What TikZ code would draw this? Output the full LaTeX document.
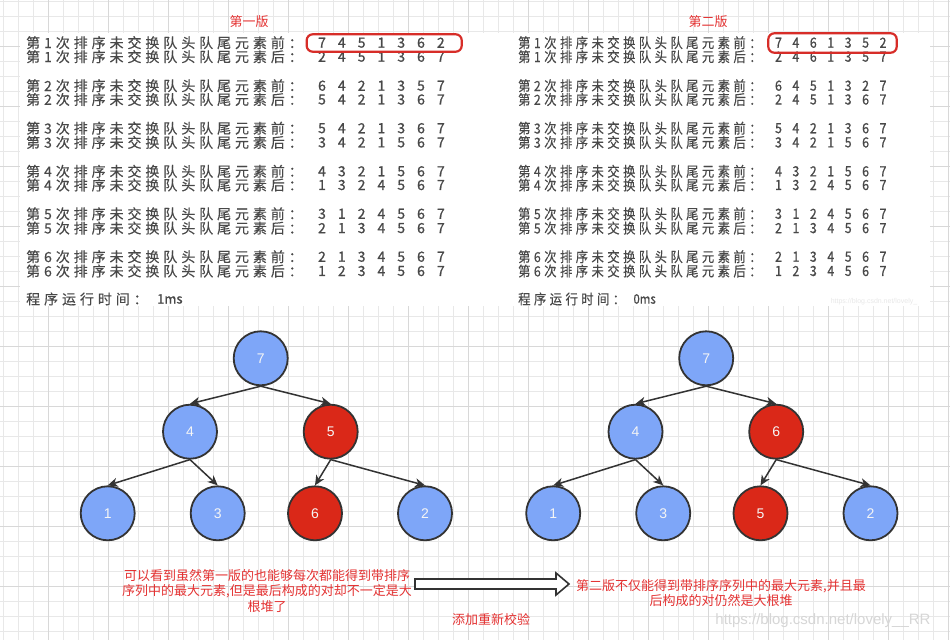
\documentclass[tikz,border=0pt]{standalone}
\usepackage{fontspec}
\setmainfont{Liberation Sans}
\newfontfamily\cjk{Noto Sans CJK SC}
\newfontfamily\cjkls[LetterSpace=28,FakeBold=0.3]{Noto Sans CJK SC}
\newfontfamily\cjkb[FakeBold=1]{Noto Sans CJK SC}
\usetikzlibrary{arrows.meta}
\definecolor{nodeblue}{RGB}{126,166,248}
\definecolor{nodered}{RGB}{218,40,24}
\definecolor{txtred}{RGB}{228,50,50}
\definecolor{boxred}{RGB}{215,45,40}
\definecolor{darkline}{RGB}{51,51,51}
\definecolor{ptext}{RGB}{72,72,72}
\definecolor{gridminor}{RGB}{232,232,232}
\definecolor{gridmajor}{RGB}{216,216,216}
% one row of a console panel: #1 name, #2 y, #3 pass, #4 前/后, #5 digits
\newcommand\prow[5]{%
  \node[plabel] (#1l) at (0,#2) {第#3次排序未交换队头队尾元素#4：};
  \foreach \dd [count=\ii from 0] in {#5}
    \node[pdigit] (#1d\ii) at (296+19.8*\ii,#2) {\dd};
}
\begin{document}
\begin{tikzpicture}[x=1pt,y=-1pt,
  plabel/.style={anchor=west,inner sep=0pt,text=ptext,font=\cjkls\fontsize{14}{16}\selectfont},
  pdigit/.style={inner sep=0pt,text=ptext,font=\cjkb\fontsize{14}{16}\selectfont},
  ttl/.style={inner sep=0pt,text=txtred,font=\cjk\fontsize{13}{15}\selectfont},
  redbox/.style={draw=boxred,line width=2.2pt,rounded corners=6pt},
  bnode/.style={circle,draw=darkline,line width=1.8pt,fill=nodeblue,minimum size=54pt,inner sep=0pt,
    text=white!92!gray,font=\fontsize{14}{16}\selectfont},
  rnode/.style={bnode,fill=nodered},
  arr/.style={draw=darkline,line width=1.5pt,-{Stealth[length=10pt,width=9pt,inset=3pt]}},
  note/.style={align=center,inner sep=0pt,text=txtred,font=\cjk\fontsize{13}{15.2}\selectfont},
]
\useasboundingbox (0,0) rectangle (950,640);
\fill[white] (0,0) rectangle (950,640);
% grid
\foreach \k in {0,...,63} \draw[gridminor,line width=0.8pt] (3.3+15*\k,0) -- (3.3+15*\k,640);
\foreach \k in {0,...,42} \draw[gridminor,line width=0.8pt] (0,1.7+15*\k) -- (950,1.7+15*\k);
\foreach \k in {3,7,...,63} \draw[gridmajor,line width=0.8pt] (3.3+15*\k,0) -- (3.3+15*\k,640);
\foreach \k in {3,7,...,42} \draw[gridmajor,line width=0.8pt] (0,1.7+15*\k) -- (950,1.7+15*\k);

% screenshot panels
\fill[white] (20,33) rectangle (930,306);
\node[ttl] (title1) at (249,22) {第一版};
\node[ttl] (title2) at (708,22) {第二版};

\begin{scope}[xshift=26pt]
\prow{La}{42.7}{1}{前}{7,4,5,1,3,6,2}
\prow{Lb}{56.7}{1}{后}{2,4,5,1,3,6,7}
\prow{Lc}{85.7}{2}{前}{6,4,2,1,3,5,7}
\prow{Ld}{99.5}{2}{后}{5,4,2,1,3,6,7}
\prow{Le}{128.2}{3}{前}{5,4,2,1,3,6,7}
\prow{Lf}{142.4}{3}{后}{3,4,2,1,5,6,7}
\prow{Lg}{171.3}{4}{前}{4,3,2,1,5,6,7}
\prow{Lh}{185.0}{4}{后}{1,3,2,4,5,6,7}
\prow{Li}{213.8}{5}{前}{3,1,2,4,5,6,7}
\prow{Lj}{228.1}{5}{后}{2,1,3,4,5,6,7}
\prow{Lk}{256.7}{6}{前}{2,1,3,4,5,6,7}
\prow{Ll}{271.0}{6}{后}{1,2,3,4,5,6,7}
\node[plabel] (Ltime) at (0,299) {程序运行时间：};
\node[plabel,font=\cjkb\fontsize{13}{15}\selectfont] (Lms) at (131,299) {1ms};
\end{scope}

\begin{scope}[xshift=518pt,xscale=0.88,transform shape]
\prow{Ra}{42.7}{1}{前}{7,4,6,1,3,5,2}
\prow{Rb}{56.7}{1}{后}{2,4,6,1,3,5,7}
\prow{Rc}{85.7}{2}{前}{6,4,5,1,3,2,7}
\prow{Rd}{99.5}{2}{后}{2,4,5,1,3,6,7}
\prow{Re}{128.2}{3}{前}{5,4,2,1,3,6,7}
\prow{Rf}{142.4}{3}{后}{3,4,2,1,5,6,7}
\prow{Rg}{171.3}{4}{前}{4,3,2,1,5,6,7}
\prow{Rh}{185.0}{4}{后}{1,3,2,4,5,6,7}
\prow{Ri}{213.8}{5}{前}{3,1,2,4,5,6,7}
\prow{Rj}{228.1}{5}{后}{2,1,3,4,5,6,7}
\prow{Rk}{256.7}{6}{前}{2,1,3,4,5,6,7}
\prow{Rl}{271.0}{6}{后}{1,2,3,4,5,6,7}
\node[plabel] (Rtime) at (0,299) {程序运行时间：};
\node[plabel,font=\cjkb\fontsize{13}{15}\selectfont] (Rms) at (131,299) {0ms};
\end{scope}
\node[inner sep=0pt,text=gray!18,font=\fontsize{7}{8}\selectfont] (wm1) at (874,302) {https://blog.csdn.net/lovely\_};

\draw[redbox] (306.7,34.3) rectangle (461.7,51.7);
\draw[redbox] (768.3,33.3) rectangle (896.7,52.7);

% left tree
\node[bnode] (a7) at (260.7,358.3) {7};
\node[bnode] (a4) at (190,431.7) {4};
\node[rnode] (a5) at (330.7,431.7) {5};
\node[bnode] (a1) at (107.7,513.3) {1};
\node[bnode] (a3) at (217.7,513.3) {3};
\node[rnode] (a6) at (315,513.3) {6};
\node[bnode] (a2) at (425,513.3) {2};
\draw[arr] (a7.south) -- (a4.north);
\draw[arr] (a7.south) -- (a5.north);
\draw[arr] (a4.south) -- (a1.north);
\draw[arr] (a4.south) -- (a3.north);
\draw[arr] (a5.south) -- (a6.north);
\draw[arr] (a5.south) -- (a2.north);

% right tree
\begin{scope}[xshift=445.5pt]
\node[bnode] (b7) at (260.7,358.3) {7};
\node[bnode] (b4) at (190,431.7) {4};
\node[rnode] (b6) at (330.7,431.7) {6};
\node[bnode] (b1) at (107.7,513.3) {1};
\node[bnode] (b3) at (217.7,513.3) {3};
\node[rnode] (b5) at (315,513.3) {5};
\node[bnode] (b2) at (425,513.3) {2};
\end{scope}
\draw[arr] (b7.south) -- (b4.north);
\draw[arr] (b7.south) -- (b6.north);
\draw[arr] (b4.south) -- (b1.north);
\draw[arr] (b4.south) -- (b3.north);
\draw[arr] (b6.south) -- (b5.north);
\draw[arr] (b6.south) -- (b2.north);

% notes
\node[note] (n1) at (267,591) {可以看到虽然第一版的也能够每次都能得到带排序\\序列中的最大元素,但是最后构成的对却不一定是大\\根堆了};
\node[note] (n2) at (721,593) {第二版不仅能得到带排序序列中的最大元素,并且最\\后构成的对仍然是大根堆};
\node[note] (n3) at (491,620) {添加重新校验};
\draw[darkline,line width=1.6pt,fill=white,line join=miter]
  (415,579) -- (556,579) -- (556,573) -- (569,584) -- (556,595) -- (556,589) -- (415,589) -- cycle;
\node[inner sep=0pt,text=gray!32,font=\fontsize{15}{17}\selectfont] (wm2) at (823,621) {https://blog.csdn.net/lovely\_\_RR};
\end{tikzpicture}
\end{document}
